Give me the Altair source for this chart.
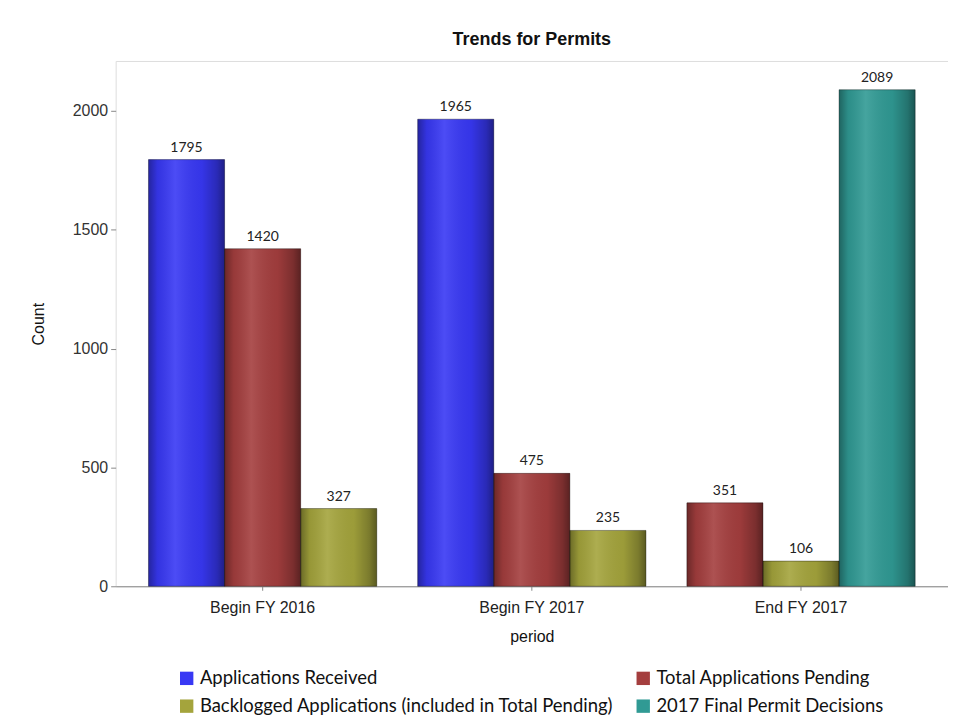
import altair as alt
import pandas as pd

periods = ["Begin FY 2016", "Begin FY 2017", "End FY 2017"]
series_names = [
    "Applications Received",
    "Total Applications Pending",
    "Backlogged Applications (included in Total Pending)",
    "2017 Final Permit Decisions",
]
received = [1795, 1965, None]
pending = [1420, 475, 351]
backlogged = [327, 235, 106]
decisions = [None, None, 2089]
series_colors = ["#3838f4", "#a43e3e", "#a4a43c", "#309a94"]
y_ticks = [0, 500, 1000, 1500, 2000]

# legend fills column by column: order so rows read Received|Pending, Backlogged|Decisions
legend_order = [series_names[0], series_names[2], series_names[1], series_names[3]]
legend_colors = [series_colors[0], series_colors[2], series_colors[1], series_colors[3]]

rows = []
for i, p in enumerate(periods):
    slot = 0
    for name, vals in zip(series_names, [received, pending, backlogged, decisions]):
        v = vals[i]
        if v is None:
            continue
        rows.append({"period": p, "series": name, "value": v, "slot": slot})
        slot += 1
df = pd.DataFrame(rows)

W, H = 835, 527
AXF = "Liberation Sans, Arial, sans-serif"
LBF = "Lato, Calibri, sans-serif"

x = alt.X(
    "period:N",
    sort=periods,
    title="period",
    scale=alt.Scale(paddingInner=0.152, paddingOuter=0.122),
    axis=alt.Axis(
        labelAngle=0, labelFont=AXF, labelFontSize=16, labelColor="#222",
        labelPadding=9, tickSize=4, tickColor="#888", domainColor="#888",
        titleFont=AXF, titleFontSize=16, titleFontWeight="normal", titleColor="#111",
        titlePadding=13,
    ),
)
xo = alt.XOffset("slot:O", scale=alt.Scale(paddingInner=0, paddingOuter=0))
y = alt.Y(
    "value:Q",
    title="Count",
    scale=alt.Scale(domain=[0, 2210], nice=False),
    axis=alt.Axis(
        values=y_ticks, format="d", grid=False, domain=False, labelFont=AXF,
        labelFontSize=16, labelColor="#333", tickSize=5, tickColor="#888",
        labelPadding=3, titleFont=AXF, titleFontSize=16, titleFontWeight="normal",
        titleColor="#111", titlePadding=26,
    ),
)

base = alt.Chart(df)

bars = base.mark_bar().encode(
    x=x, xOffset=xo, y=y,
    color=alt.Color(
        "series:N",
        scale=alt.Scale(domain=legend_order, range=legend_colors),
        legend=alt.Legend(
            title=None, orient="none", legendX=62, legendY=610, columns=2,
            columnPadding=20, rowPadding=9, symbolType="square", symbolSize=180,
            symbolStrokeWidth=0, labelFont=LBF, labelFontSize=18.5, labelColor="#111",
            labelLimit=700, symbolOffset=0,
        ),
    ),
)

shade = base.mark_bar(
    stroke="rgba(0,0,0,0.35)",
    strokeWidth=1,
    color=alt.LinearGradient(
        gradient="linear", x1=0, x2=1, y1=0, y2=0,
        stops=[
            alt.GradientStop(offset=0.0, color="rgba(0,0,0,0.35)"),
            alt.GradientStop(offset=0.12, color="rgba(0,0,0,0.08)"),
            alt.GradientStop(offset=0.35, color="rgba(255,255,255,0.10)"),
            alt.GradientStop(offset=0.7, color="rgba(0,0,0,0.05)"),
            alt.GradientStop(offset=0.9, color="rgba(0,0,0,0.25)"),
            alt.GradientStop(offset=1.0, color="rgba(0,0,0,0.45)"),
        ],
    ),
).encode(x=x, xOffset=xo, y=y)

labels = base.mark_text(
    baseline="bottom", dy=-5, font=LBF, fontSize=14, color="#222"
).encode(x=x, xOffset=xo, y=y, text=alt.Text("value:Q"))

chart = (
    alt.layer(bars, shade, labels)
    .properties(
        width=W,
        height=H,
        title=alt.TitleParams(
            "Trends for Permits", font=AXF, fontSize=18, fontWeight="bold",
            color="#111", anchor="middle", offset=12,
        ),
        autosize=alt.AutoSizeParams(type="none"),
        padding={"left": 108, "top": 52, "right": 0, "bottom": 128},
    )
    .configure_view(stroke="#9a9a9a", strokeWidth=1)
    .configure(background="white")
)

chart.save("out.html", embed_options={"renderer": "svg", "actions": False})
